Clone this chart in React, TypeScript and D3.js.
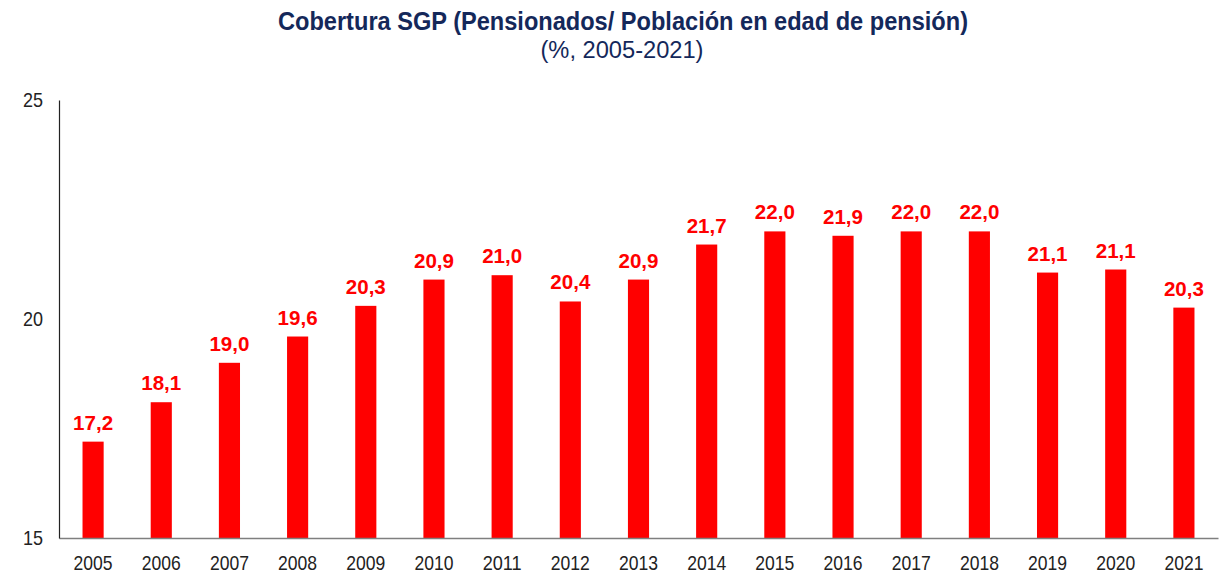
import React, { useEffect, useRef } from "react";
import * as d3 from "d3";

const years = ["2005", "2006", "2007", "2008", "2009", "2010", "2011", "2012", "2013", "2014", "2015", "2016", "2017", "2018", "2019", "2020", "2021"];
const coverage = [17.2, 18.1, 19.0, 19.6, 20.3, 20.9, 21.0, 20.4, 20.9, 21.7, 22.0, 21.9, 22.0, 22.0, 21.06, 21.13, 20.26];
const yTicks = [15, 20, 25];

const title = "Cobertura SGP (Pensionados/ Población en edad de pensión)";
const subtitle = "(%, 2005-2021)";

const narrow = "'Liberation Sans Narrow', 'Arial Narrow', 'Liberation Sans', Arial, sans-serif";

export default function App() {
  const svgRef = useRef<SVGSVGElement | null>(null);

  useEffect(() => {
    const width = 1227,
      height = 574,
      margin = { top: 100, right: 9, bottom: 36, left: 59 };

    const svg = d3.select(svgRef.current);
    svg.selectAll("*").remove();

    const x = d3.scaleBand<string>()
      .domain(years)
      .range([margin.left, width - margin.right])
      .paddingInner(0.69)
      .paddingOuter(0.345);

    const y = d3.scaleLinear()
      .domain([15, 25])
      .range([height - margin.bottom, margin.top]);

    // titles (condensed look via textLength)
    svg.append("text")
      .attr("x", 623)
      .attr("y", 30)
      .attr("text-anchor", "middle")
      .attr("textLength", 690)
      .attr("lengthAdjust", "spacingAndGlyphs")
      .style("font-family", narrow)
      .style("font-weight", "bold")
      .style("font-size", "25px")
      .style("fill", "#14285a")
      .text(title);

    svg.append("text")
      .attr("x", 622)
      .attr("y", 58)
      .attr("text-anchor", "middle")
      .attr("textLength", 163)
      .attr("lengthAdjust", "spacingAndGlyphs")
      .style("font-family", narrow)
      .style("font-size", "23px")
      .style("fill", "#14285a")
      .text(subtitle);

    // bars
    svg.append("g")
      .selectAll("rect")
      .data(years)
      .enter().append("rect")
      .attr("x", d => x(d) as number)
      .attr("y", (d, i) => y(coverage[i]))
      .attr("width", x.bandwidth())
      .attr("height", (d, i) => y(15) - y(coverage[i]))
      .attr("fill", "#ff0000");

    // value labels
    svg.append("g")
      .selectAll("text")
      .data(years)
      .enter().append("text")
      .attr("x", d => (x(d) as number) + x.bandwidth() / 2)
      .attr("y", (d, i) => y(coverage[i]) - 12)
      .attr("text-anchor", "middle")
      .attr("textLength", 40)
      .attr("lengthAdjust", "spacingAndGlyphs")
      .style("font-family", narrow)
      .style("font-weight", "bold")
      .style("font-size", "21px")
      .style("fill", "#ff0000")
      .text((d, i) => d3.format(".1f")(coverage[i]).replace(".", ","));

    // x axis
    const xAxis = svg.append("g")
      .attr("transform", `translate(0,${y(15)})`)
      .call(d3.axisBottom(x).tickSize(0).tickPadding(17));
    xAxis.select(".domain").attr("stroke", "#7f7f7f").attr("stroke-width", 1.5);
    xAxis.selectAll("text")
      .attr("textLength", 39)
      .attr("lengthAdjust", "spacingAndGlyphs")
      .style("font-family", narrow)
      .style("font-size", "21px")
      .style("fill", "#222");

    // y axis
    const yAxis = svg.append("g")
      .attr("transform", `translate(${margin.left},0)`)
      .call(d3.axisLeft(y).tickValues(yTicks).tickSize(0).tickPadding(16));
    yAxis.select(".domain").attr("stroke", "#222").attr("stroke-width", 1.2);
    yAxis.selectAll("text")
      .attr("textLength", 20)
      .attr("lengthAdjust", "spacingAndGlyphs")
      .style("font-family", narrow)
      .style("font-size", "21px")
      .style("fill", "#222");
  }, []);

  return (
    <div>
      <svg
        width={1227}
        height={574}
        ref={svgRef}
        style={{ position: "absolute", left: 0, top: 0, background: "#fff" }}
      />
    </div>
  );
}
